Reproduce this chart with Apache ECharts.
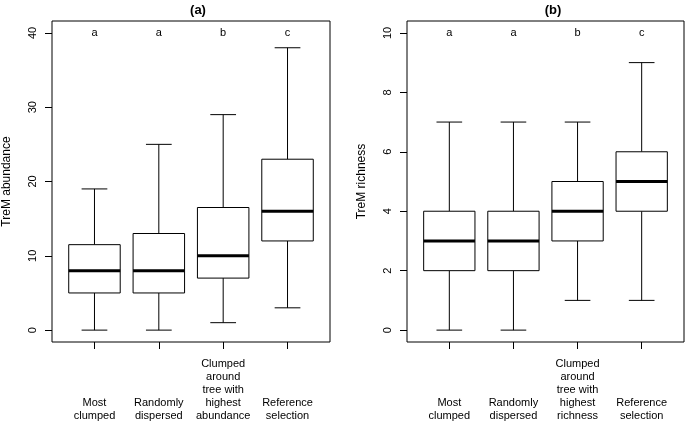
<!DOCTYPE html>
<html><head><meta charset="utf-8">
<script src="https://cdn.jsdelivr.net/npm/echarts@6/dist/echarts.min.js"></script>
<style>html,body{margin:0;padding:0;background:#fff}#c{width:685px;height:422px}</style>
</head><body><div id="c"></div>
<script>
// ---- data ----
const categoriesA = ['Most\nclumped', 'Randomly\ndispersed', 'Clumped\naround\ntree with\nhighest\nabundance', 'Reference\nselection'];
const categoriesB = ['Most\nclumped', 'Randomly\ndispersed', 'Clumped\naround\ntree with\nhighest\nrichness', 'Reference\nselection'];
// [min, q1, median, q3, max]
const abundanceStats = [
  [0, 5, 8, 11.5, 19],
  [0, 5, 8, 13, 25],
  [1, 7, 10, 16.5, 29],
  [3, 12, 16, 23, 38]
];
const richnessStats = [
  [0, 2, 3, 4, 7],
  [0, 2, 3, 4, 7],
  [1, 3, 4, 5, 7],
  [1, 4, 5, 6, 9]
];
const lettersA = ['a', 'a', 'b', 'c'];
const lettersB = ['a', 'a', 'b', 'c'];
const ticksA = [0, 10, 20, 30, 40];
const ticksB = [0, 2, 4, 6, 8, 10];
const titleA = '(a)', titleB = '(b)';
const yNameA = 'TreM abundance', yNameB = 'TreM richness';

// ---- chart ----
const FONT = 'Liberation Sans, Arial, Helvetica, sans-serif';
const chart = echarts.init(document.getElementById('c'), null, {renderer: 'canvas'});

function boxRender(params, api) {
  const x = api.value(0);
  const mn = api.value(1), q1 = api.value(2), md = api.value(3), q3 = api.value(4), mx = api.value(5);
  const bw = api.size([0.8, 0])[0];
  const cw = bw / 2;
  const pMin = api.coord([x, mn]), pQ1 = api.coord([x, q1]), pMd = api.coord([x, md]);
  const pQ3 = api.coord([x, q3]), pMax = api.coord([x, mx]);
  const cx = pMd[0];
  const ls = {stroke: '#000', lineWidth: 1};
  return {
    type: 'group',
    children: [
      {type: 'line', shape: {x1: cx, y1: pQ3[1], x2: cx, y2: pMax[1]}, style: ls},
      {type: 'line', shape: {x1: cx, y1: pQ1[1], x2: cx, y2: pMin[1]}, style: ls},
      {type: 'line', shape: {x1: cx - cw / 2, y1: pMax[1], x2: cx + cw / 2, y2: pMax[1]}, style: ls},
      {type: 'line', shape: {x1: cx - cw / 2, y1: pMin[1], x2: cx + cw / 2, y2: pMin[1]}, style: ls},
      {type: 'rect', shape: {x: cx - bw / 2, y: pQ3[1], width: bw, height: pQ1[1] - pQ3[1]}, style: {fill: '#fff', stroke: '#000', lineWidth: 1}},
      {type: 'line', shape: {x1: cx - bw / 2, y1: pMd[1], x2: cx + bw / 2, y2: pMd[1]}, style: {stroke: '#000', lineWidth: 3, lineCap: 'butt'}}
    ]
  };
}
function letterRender(params, api) {
  const p = api.coord([api.value(0), api.value(1)]);
  return {type: 'text', x: p[0], y: p[1], style: {text: params.context.letters[params.dataIndex], fill: '#000', font: '11px ' + FONT, align: 'center', verticalAlign: 'middle'}};
}

function xAxis(idx, cats) {
  return {
    type: 'value', gridIndex: idx, min: 0.34, max: 4.66,
    axisLine: {show: false, onZero: false}, splitLine: {show: false},
    axisTick: {show: true, length: 7, lineStyle: {color: '#000'}, customValues: [1, 2, 3, 4]},
    axisLabel: {customValues: [1, 2, 3, 4], formatter: v => cats[Math.round(v) - 1], color: '#000',
      fontFamily: FONT, fontSize: 11, lineHeight: 13, verticalAlign: 'bottom', margin: 80, align: 'center'}
  };
}
function yAxis(idx, min, max, ticks, name) {
  return {
    type: 'value', gridIndex: idx, min: min, max: max,
    name: name, nameLocation: 'middle', nameGap: 39, nameRotate: 90,
    nameTextStyle: {color: '#000', fontFamily: FONT, fontSize: 12},
    axisLine: {show: false, onZero: false}, splitLine: {show: false},
    axisTick: {show: true, length: 7, lineStyle: {color: '#000'}, customValues: ticks},
    axisLabel: {customValues: ticks, rotate: 90, color: '#000', fontFamily: FONT, fontSize: 11, margin: 14}
  };
}

const gridBorder = {show: true, borderColor: '#000', borderWidth: 1, backgroundColor: 'transparent'};
chart.setOption({
  animation: false,
  title: [
    {text: titleA, left: 193, top: -1, textAlign: 'center', textStyle: {fontFamily: FONT, fontSize: 13, fontWeight: 'bold', color: '#000'}},
    {text: titleB, left: 548, top: -1, textAlign: 'center', textStyle: {fontFamily: FONT, fontSize: 13, fontWeight: 'bold', color: '#000'}}
  ],
  grid: [
    Object.assign({left: 52, right: 355, top: 21, bottom: 79}, gridBorder),
    Object.assign({left: 407, right: 1, top: 21, bottom: 79}, gridBorder)
  ],
  xAxis: [xAxis(0, categoriesA), xAxis(1, categoriesB)],
  yAxis: [yAxis(0, -1.6, 41.6, ticksA, yNameA), yAxis(1, -0.4, 10.4, ticksB, yNameB)],
  series: [
    {type: 'custom', xAxisIndex: 0, yAxisIndex: 0, renderItem: boxRender,
      data: abundanceStats.map((s, i) => [i + 1].concat(s))},
    {type: 'custom', xAxisIndex: 1, yAxisIndex: 1, renderItem: boxRender,
      data: richnessStats.map((s, i) => [i + 1].concat(s))},
    {type: 'custom', xAxisIndex: 0, yAxisIndex: 0, renderItem: (p, api) => { p.context.letters = lettersA; return letterRender(p, api); },
      data: lettersA.map((l, i) => [i + 1, ticksA[ticksA.length - 1]])},
    {type: 'custom', xAxisIndex: 1, yAxisIndex: 1, renderItem: (p, api) => { p.context.letters = lettersB; return letterRender(p, api); },
      data: lettersB.map((l, i) => [i + 1, ticksB[ticksB.length - 1]])}
  ]
});
</script></body></html>
